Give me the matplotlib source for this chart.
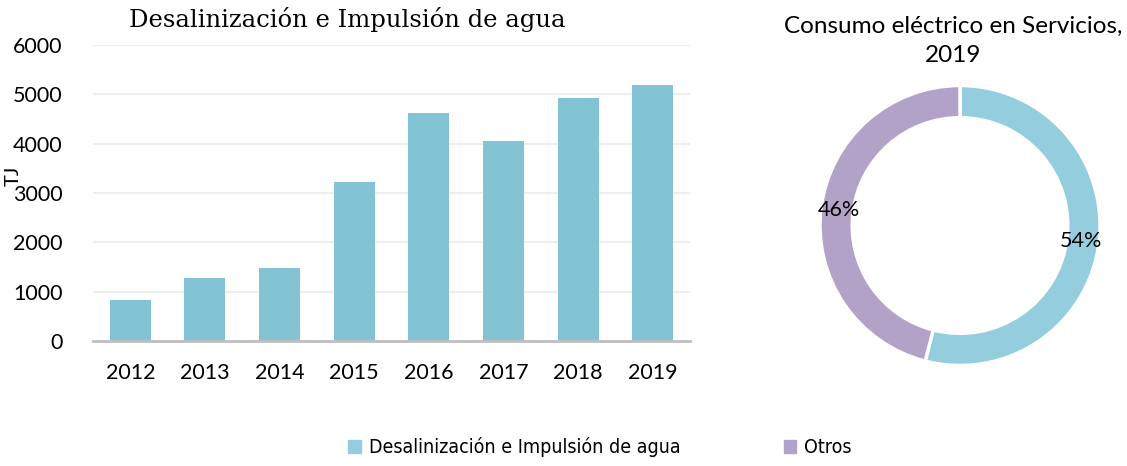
import matplotlib
matplotlib.use("Agg")
import matplotlib.pyplot as plt
from matplotlib.patches import Patch

# Data
years = ["2012", "2013", "2014", "2015", "2016", "2017", "2018", "2019"]
consumo_tj = [830, 1280, 1480, 3220, 4620, 4045, 4932, 5188]
pie_labels = ["Desalinización e Impulsión de agua", "Otros"]
pie_values = [54, 46]
yticks = [0, 1000, 2000, 3000, 4000, 5000, 6000]

bar_color = "#82C4D4"
pie_colors = ["#94CDDD", "#B3A2C7"]

plt.rcParams['font.family'] = ['Lato', 'DejaVu Sans']

fig = plt.figure(figsize=(11.27, 4.66), dpi=100)

# Bar chart
ax = fig.add_axes([93/1127, 1-341/466, 597/1127, 296/466])
x = list(range(len(years)))
ax.bar(x, consumo_tj, width=0.55, color=bar_color, zorder=3)
ax.set_xlim(-0.5, len(years)-0.5)
ax.set_ylim(0, 6000)
ax.set_yticks(yticks)
ax.set_yticklabels([str(v) for v in yticks], fontsize=15.5)
ax.set_xticks(x)
ax.set_xticklabels(years, fontsize=15.5)
ax.tick_params(axis='both', length=0, colors='black')
ax.tick_params(axis='y', pad=22)
ax.tick_params(axis='x', pad=16)
ax.grid(axis='y', color='#EEEEEE', linewidth=1.5, zorder=0)
for s in ['top', 'right', 'left']:
    ax.spines[s].set_visible(False)
ax.spines['bottom'].set_color('#BFBFBF')
ax.spines['bottom'].set_linewidth(2)
ax.spines['bottom'].set_zorder(4)
fig.text(13/1127, 1-176/466, "TJ", rotation=90, fontsize=14.5, ha='center', va='center')
fig.text(347/1127, 1-20/466, "Desalinización e Impulsión de agua", fontsize=17.5,
         family=['DejaVu Serif'], ha='center', va='center')

# Donut chart
pax = fig.add_axes([820/1127, 1-365.5/466, 280/1127, 280/466])
wedges, texts, autotexts = pax.pie(
    pie_values, colors=pie_colors, startangle=90, counterclock=False,
    radius=1.0, autopct='%1.0f%%', pctdistance=0.87,
    wedgeprops=dict(width=0.23, edgecolor='white', linewidth=2.5),
    textprops=dict(fontsize=15.5, color='black'))
pax.set_xlim(-1, 1)
pax.set_ylim(-1, 1)
pax.set_aspect('equal')
pax.axis('off')
fig.text(953/1127, 1-41/466, "Consumo eléctrico en Servicios,\n2019", fontsize=17.5,
         ha='center', va='center', linespacing=1.45)

# Legend
handles = [Patch(color=pie_colors[0], label=pie_labels[0]),
           Patch(color=pie_colors[1], label=pie_labels[1])]
fig.legend(handles=handles, loc='center', bbox_to_anchor=(600/1127, 1-447/466),
           ncol=2, frameon=False, handlelength=0.65, handleheight=0.65,
           handletextpad=0.4, columnspacing=5.3,
           prop=dict(family=['DejaVu Sans'], stretch='condensed', size=14))

fig.savefig("out.png", dpi=100)
